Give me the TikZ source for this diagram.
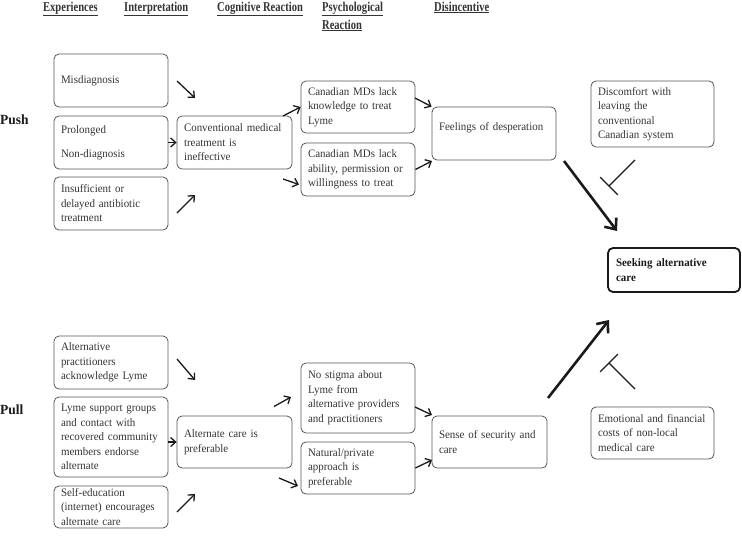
\documentclass[tikz,border=0pt]{standalone}
\usepackage{fontspec}
\setmainfont[FakeStretch=0.96]{Liberation Serif}
\newfontfamily\hdrfont[FakeStretch=0.78]{Liberation Serif}
\usetikzlibrary{arrows.meta}
\definecolor{boxgray}{HTML}{555555}
\definecolor{txtgray}{HTML}{333333}
\definecolor{ink}{HTML}{1A1A1A}
\newcommand{\bodyfnt}{\fontsize{11.4}{14.5}\selectfont}
\tikzset{
  box/.style={draw=boxgray, rounded corners=5pt, line width=0.8pt, align=left,
    inner xsep=7pt, inner ysep=1pt, font=\bodyfnt, text=txtgray, anchor=center},
  goalbox/.style={draw=ink, rounded corners=5pt, line width=1.8pt, align=left,
    inner xsep=8pt, inner ysep=1pt, font=\bodyfnt\bfseries, text=ink},
  hdr/.style={font=\hdrfont\bfseries\fontsize{13.5}{18}\selectfont, text=txtgray,
    inner sep=0pt, align=left},
  side/.style={font=\bfseries\fontsize{14}{16}\selectfont, text=ink, inner sep=0pt},
  thin/.style={draw=ink, line width=1.3pt, -{Straight Barb[length=5pt,width=9pt]}},
  thick/.style={draw=ink, line width=2.6pt, -{Straight Barb[length=9pt,width=15pt]}},
  block/.style={draw=ink, line width=1.3pt, -{Bar[width=25pt,line width=1.3pt]}}
}
\begin{document}
\begin{tikzpicture}[x=1pt,y=-1pt]
\useasboundingbox (0,0) rectangle (742,539);
% headers
\node[hdr, anchor=base west] (h1) at (43,11) {\underline{Experiences}};
\node[hdr, anchor=base west] (h2) at (124,11) {\underline{Interpretation}};
\node[hdr, anchor=base west] (h3) at (217,11) {\underline{Cognitive Reaction}};
\node[hdr, anchor=north west] (h4) at (322,1.5) {\underline{Psychological}\\\underline{Reaction}};
\node[hdr, anchor=base west] (h5) at (434,11) {\underline{Disincentive}};
% side labels
\node[side, anchor=west] (push) at (0,120) {Push};
\node[side, anchor=west] (pull) at (0,410) {Pull};
% push boxes
\node[box, text width=100pt, minimum width=114pt, minimum height=53pt] (mis) at (111,80.5) {Misdiagnosis};
\node[box, text width=100pt, minimum width=114pt, minimum height=53pt] (prol) at (111,142.5) {Prolonged\\[9.5pt]Non-diagnosis};
\node[box, text width=100pt, minimum width=114pt, minimum height=53pt] (ins) at (111,203.5) {Insufficient or\\delayed antibiotic\\treatment};
\node[box, text width=101pt, minimum width=115pt, minimum height=53pt] (conv) at (234.5,142.5) {Conventional medical\\treatment is\\ineffective};
\node[box, text width=100pt, minimum width=114pt, minimum height=52pt] (can1) at (358,107) {Canadian MDs lack\\knowledge to treat\\Lyme};
\node[box, text width=100pt, minimum width=114pt, minimum height=53pt] (can2) at (358,169.5) {Canadian MDs lack\\ability, permission or\\willingness to treat};
\node[box, text width=110pt, minimum width=124pt, minimum height=53pt] (feel) at (494,133.5) {Feelings of desperation\\\mbox{}};
\node[box, text width=109pt, minimum width=123pt, minimum height=66pt] (disc) at (652.5,114) {Discomfort with\\leaving the\\conventional\\Canadian system};
% goal
\node[goalbox, text width=116pt, minimum width=132pt, minimum height=44pt] (seek) at (674,270) {Seeking alternative\\care};
% pull boxes
\node[box, text width=100pt, minimum width=114pt, minimum height=53pt] (altp) at (111,362.5) {Alternative\\practitioners\\acknowledge Lyme};
\node[box, text width=100pt, minimum width=114pt, minimum height=80pt] (lyme) at (111,437) {Lyme support groups\\and contact with\\recovered community\\members endorse\\alternate};
\node[box, text width=100pt, minimum width=114pt, minimum height=42pt] (self) at (111,507) {Self-education\\(internet) encourages\\alternate care};
\node[box, text width=101pt, minimum width=115pt, minimum height=52pt] (altc) at (234.5,442) {Alternate care is\\preferable};
\node[box, text width=100pt, minimum width=114pt, minimum height=70pt] (stig) at (358,398) {No stigma about\\Lyme from\\alternative providers\\and practitioners};
\node[box, text width=100pt, minimum width=114pt, minimum height=52pt] (nat) at (358,468) {Natural/private\\approach is\\preferable};
\node[box, text width=101pt, minimum width=115pt, minimum height=52pt] (sense) at (489.5,442) {Sense of security and\\care};
\node[box, text width=109pt, minimum width=123pt, minimum height=52pt] (emo) at (652.5,433) {Emotional and financial\\costs of non-local\\medical care};
% free connector ends
\coordinate (a1s) at (177,81);  \coordinate (a1e) at (195,98);
\coordinate (a3s) at (177,213); \coordinate (a3e) at (195,195);
\coordinate (a4s) at (283,116);
\coordinate (a5s) at (283,179); \coordinate (a5e) at (299,184.5);
\coordinate (a6s) at (415,98);
\coordinate (a7e) at (432,161);
\coordinate (a8s) at (177,359); \coordinate (a8e) at (195,380);
\coordinate (a10s) at (177,512); \coordinate (a10e) at (195,494);
\coordinate (a11s) at (274,406.5); \coordinate (a11e) at (291,397);
\coordinate (a12s) at (279,478); \coordinate (a12e) at (298,486);
\coordinate (a13s) at (415,407); \coordinate (a13e) at (432,415);
\coordinate (a14e) at (432,460);
\coordinate (t1s) at (564,161); \coordinate (t1e) at (617,231);
\coordinate (t2s) at (548,398); \coordinate (t2e) at (609,320);
\coordinate (b1s) at (635,160); \coordinate (b1e) at (608.5,186.5);
\coordinate (b2s) at (635,389); \coordinate (b2e) at (608.5,362.5);
% thin arrows
\draw[thin] (a1s) -- (a1e);
\draw[thin] (prol.east) -- (conv.west);
\draw[thin] (a3s) -- (a3e);
\draw[thin] (a4s) -- (can1.west);
\draw[thin] (a5s) -- (a5e);
\draw[thin] (a6s) -- (feel.north west);
\draw[thin] (can2.east) -- (a7e);
\draw[thin] (a8s) -- (a8e);
\draw[thin] (lyme.east |- altc.west) -- (altc.west);
\draw[thin] (a10s) -- (a10e);
\draw[thin] (a11s) -- (a11e);
\draw[thin] (a12s) -- (a12e);
\draw[thin] (a13s) -- (a13e);
\draw[thin] (nat.east) -- (a14e);
% thick arrows
\draw[thick] (t1s) -- (t1e);
\draw[thick] (t2s) -- (t2e);
% inhibitors
\draw[block] (b1s) -- (b1e);
\draw[block] (b2s) -- (b2e);
\end{tikzpicture}
\end{document}
